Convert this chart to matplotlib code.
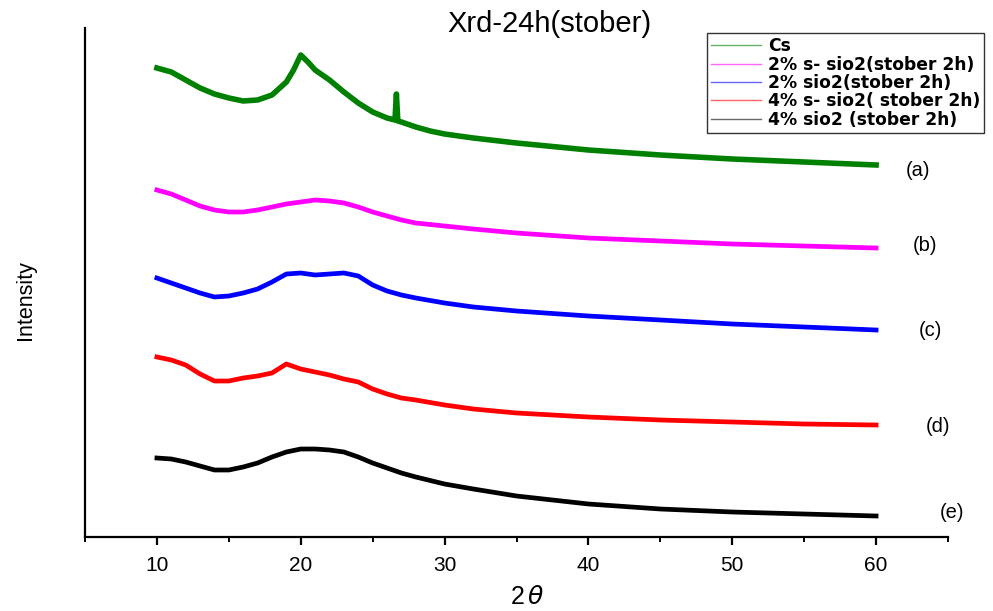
import matplotlib
matplotlib.use("Agg")
import matplotlib.pyplot as plt
from matplotlib.ticker import MultipleLocator

plt.rcParams['font.family'] = ['Liberation Sans', 'DejaVu Sans']

# 2-theta positions (deg) and intensities (arbitrary units, stacked offsets)
x_cs = [10, 11, 12, 13, 14, 15, 16, 17, 18, 19, 19.5, 20, 20.5, 21, 22, 23, 24, 25, 26,
        26.55, 26.65, 26.75, 27, 28, 29, 30, 32, 35, 40, 45, 50, 55, 60]
y_cs = [469, 465, 457, 449, 443, 439, 436, 437, 442, 455, 467, 482, 475, 467, 457, 445, 434, 425, 419,
        417, 443, 416, 415, 410, 406, 403, 399, 394, 387, 382, 378, 375, 372]

x_common = [10, 11, 12, 13, 14, 15, 16, 17, 18, 19, 20, 21, 22, 23, 24, 25, 26, 27, 28,
            30, 32, 35, 40, 45, 50, 55, 60]
y_2s = [347, 343, 337, 331, 327, 325, 325, 327, 330, 333, 335, 337, 336, 334, 330, 325, 321, 317, 314,
        311, 308, 304, 299, 296, 293, 291, 289]
y_2 = [259, 254, 249, 244, 240, 241, 244, 248, 255, 263, 264, 262, 263, 264, 261, 252, 246, 242, 239,
       234, 230, 226, 221, 217, 213, 210, 207]
y_4s = [180, 177, 172, 163, 156, 156, 159, 161, 164, 173, 168, 165, 162, 158, 155, 148, 143, 139, 137,
        132, 128, 124, 120, 117, 115, 113, 112]
y_4 = [79, 78, 75, 71, 67, 67, 70, 74, 80, 85, 88, 88, 87, 85, 80, 74, 69, 64, 60,
       53, 48, 41, 33, 28, 25, 23, 21]

labels = ['Cs', '2% s- sio2(stober 2h)', '2% sio2(stober 2h)', '4% s- sio2( stober 2h)', '4% sio2 (stober 2h)']
colors = ['#008000', '#ff00ff', '#0000ff', '#ff0000', '#000000']
tags = ['(a)', '(b)', '(c)', '(d)', '(e)']
tag_x = [62.9, 63.4, 63.75, 64.3, 65.3]
tag_y = [367, 292, 207, 110, 25]

fig = plt.figure(figsize=(9.93, 6.11), dpi=100)
ax = fig.add_axes([85/993, 74/611, 863/993, 509/611])

series = [(x_cs, y_cs), (x_common, y_2s), (x_common, y_2), (x_common, y_4s), (x_common, y_4)]
widths = [4.0, 3.4, 3.4, 3.4, 3.4]
for (xs, ys), c, lab, w in zip(series, colors, labels, widths):
    ax.plot(xs, ys, color=c, lw=w, label=lab, solid_joinstyle='round')

for t, tx, ty in zip(tags, tag_x, tag_y):
    ax.text(tx, ty, t, fontsize=14.5, ha='center', va='center', clip_on=False)

ax.set_xlim(5, 65)
ax.set_ylim(0, 509)
ax.spines['top'].set_visible(False)
ax.spines['right'].set_visible(False)
ax.spines['left'].set_linewidth(1.6)
ax.spines['bottom'].set_linewidth(1.6)
ax.set_yticks([])
ax.xaxis.set_major_locator(MultipleLocator(10))
ax.xaxis.set_minor_locator(MultipleLocator(5))
ax.tick_params(axis='x', which='major', length=6, width=1.6, labelsize=15, pad=8)
ax.tick_params(axis='x', which='minor', length=3.5, width=1.4)

fig.text(549/993, 1 - 24/611, 'Xrd-24h(stober)', fontsize=21, ha='center', va='center')
fig.text(527/993, 1 - 597/611, r'2$\,\theta$', fontsize=18, ha='center', va='center')
fig.text(25/993, 1 - 300/611, 'Intensity', fontsize=15.5, ha='center', va='center', rotation=90)

leg = ax.legend(loc='upper left', bbox_to_anchor=(707/993, 1 - 33/611), bbox_transform=fig.transFigure,
                borderaxespad=0, frameon=True, fancybox=False, edgecolor='black',
                prop={'weight': 'bold', 'size': 12.3, 'family': 'DejaVu Sans'},
                handlelength=2.9, handletextpad=0.4, labelspacing=0.02, borderpad=0.25)
leg.get_frame().set_linewidth(1.0)
for line in leg.get_lines():
    line.set_linewidth(1.0)
    line.set_alpha(0.6)

fig.savefig('out.png', dpi=100)
